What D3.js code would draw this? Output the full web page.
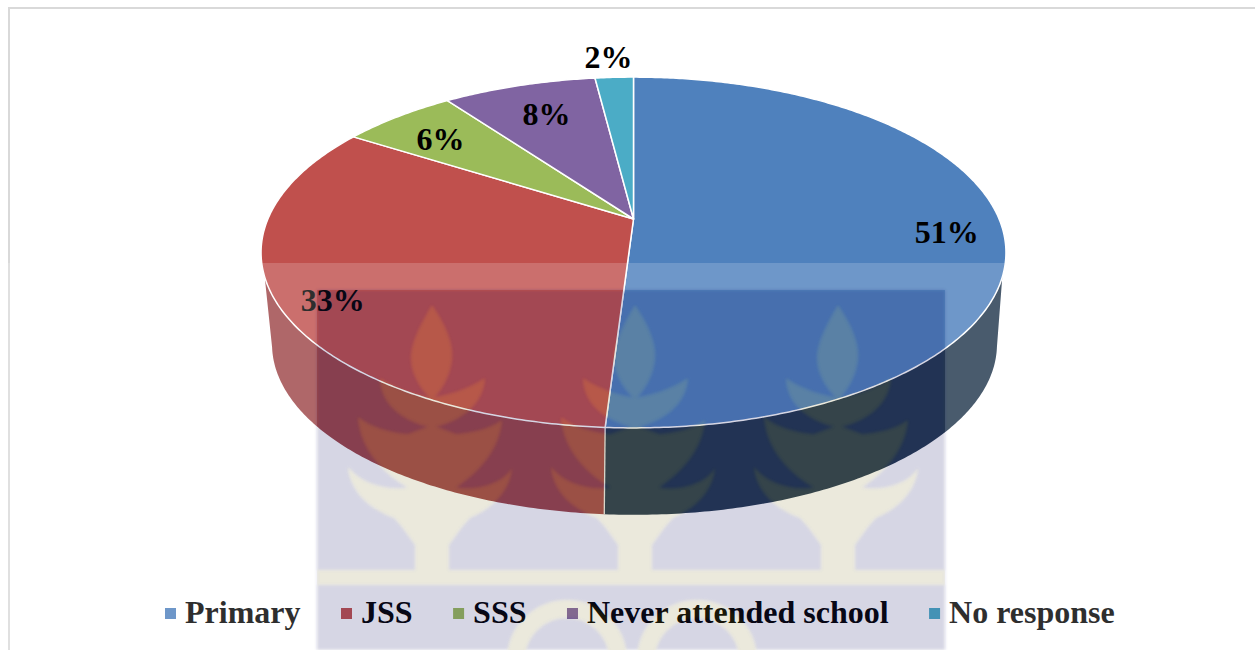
<!DOCTYPE html>
<html><head><meta charset="utf-8">
<script src="https://cdn.jsdelivr.net/npm/d3@7"></script>
<style>html,body{margin:0;padding:0;background:#fff;overflow:hidden}svg{display:block}
text{font-family:"Liberation Serif",serif;font-weight:bold;fill:#000}</style>
</head><body><div id="c"></div>
<script>
// ---- data ----
const categories = ["Primary","JSS","SSS","Never attended school","No response"];
const values = [51,33,6,8,2];
const labels = ["51%","33%","6%","8%","2%"];
const topColors = ["#4f81bd","#c0504d","#9bbb59","#8064a2","#4bacc6"];
const sideColors = ["#22374e","#9e4648","#6f8a3c","#5a4674","#2f7f93"];

// ---- layout ----
const W=1255,H=650;
const svg=d3.select("#c").append("svg").attr("width",W).attr("height",H);
const k=0.191;
const rimTop={cx:633.5,A:365.6,B:169,y0:219};
const rimBot={cx:634.5,A:355.8,B:164.4,y0:311.6};
function project(theta,r,g){ // theta clockwise from 12 o'clock
  const x=Math.sin(theta)*r,y=-Math.cos(theta)*r,w=1-k*y;
  return [g.cx+g.A*x/w,g.y0+g.B*y/w];
}
const line=d3.line();
const pie=d3.pie().sort(null).value(d=>d);
const arcs=pie(values);
const rad=d3.scaleLinear().domain([0,180]).range([0,Math.PI]);
const sideTop=[rad(108.8),rad(251.2)];
const sideBot=d3.scaleLinear().domain(sideTop).range([rad(102),rad(258)]);
const sampleAngles=(a,b)=>{const n=Math.max(2,Math.ceil((b-a)/0.01));return d3.range(n+1).map(i=>a+(b-a)*i/n)};

const defs=svg.append("defs");
defs.append("filter").attr("id","soft").attr("x","-5%").attr("y","-5%").attr("width","110%").attr("height","110%")
  .append("feGaussianBlur").attr("stdDeviation",1.4);

// frame
svg.append("path").attr("d",`M9,${H}V8H${W}`).attr("fill","none").attr("stroke","#d9d9d9").attr("stroke-width",2);

// side walls
const gSide=svg.append("g");
arcs.forEach((d,i)=>{
  const a=Math.max(d.startAngle,sideTop[0]),b=Math.min(d.endAngle,sideTop[1]);
  if(b<=a) return;
  const top=sampleAngles(a,b).map(t=>project(t,1,rimTop));
  const bot=sampleAngles(a,b).reverse().map(t=>project(sideBot(t),1,rimBot));
  gSide.append("path").attr("d",line(top.concat(bot))+"Z").attr("fill",sideColors[i]);
});
arcs.forEach(d=>{
  const t=d.endAngle;
  if(t>sideTop[0]&&t<sideTop[1]){
    const p=project(t,1,rimTop),q=project(sideBot(t),1,rimBot);
    gSide.append("path").attr("d",line([p,q])).attr("stroke","#e8e8e8").attr("stroke-width",1.3);
  }
});

// top surface
const gTop=svg.append("g");
arcs.forEach((d,i)=>{
  const pts=[project(0,0,rimTop)].concat(sampleAngles(d.startAngle,d.endAngle).map(t=>project(t,1,rimTop)));
  gTop.append("path").attr("d",line(pts)+"Z").attr("fill",topColors[i])
    .attr("stroke","#fff").attr("stroke-width",1.5).attr("stroke-linejoin","round");
});

// data labels
const labelRadius=[.853,.855,.80,.73,1.175], labelNudge=[[0,9],[0,11],[0,4],[0,-3],[-3,0]];
const gLab=svg.append("g");
arcs.forEach((d,i)=>{
  const p=project((d.startAngle+d.endAngle)/2,labelRadius[i],rimTop);
  gLab.append("text").attr("x",p[0]+labelNudge[i][0]).attr("y",p[1]+labelNudge[i][1]+10.5)
    .attr("text-anchor","middle").attr("font-size",32).text(labels[i]);
});

// legend
const gLeg=svg.append("g");
let lx=165; const legendGap=40.5;
categories.forEach((c,i)=>{
  gLeg.append("rect").attr("x",lx).attr("y",608).attr("width",11).attr("height",11).attr("fill",topColors[i]);
  const t=gLeg.append("text").attr("x",lx+20).attr("y",623).attr("font-size",32).text(c);
  lx+=20+t.node().getComputedTextLength()+legendGap;
});

// watermark overlay
const plantCenters=[432,635,838];
const plantPaths=[
 "M0,305C14,325 22,345 20,360C18,378 8,392 2,398L-2,398C-8,392 -20,378 -21,360C-22,345 -12,325 0,305Z",
 "M-52,378C-35,390 -15,395 0,398C15,395 35,390 53,378C52,400 35,420 0,428C-35,420 -52,400 -52,378Z",
 "M-74,417C-60,428 -40,433 -24,434L0,425L24,434C40,433 60,428 70,420C68,450 45,475 20,490L0,495L-20,490C-48,475 -72,450 -74,417Z",
 "M-84,467C-72,482 -50,490 -28,488L0,480L28,488C50,490 72,482 80,468C78,490 62,508 38,518L30,527L17,545L17,572L-17,572L-17,545L-30,527L-38,518C-65,508 -82,490 -84,467Z"
];
function drawEmblem(g,fill){
  plantCenters.forEach(c=>plantPaths.forEach(p=>g.append("path").attr("d",p).attr("transform",`translate(${c},0)`).attr("fill",fill)));
  g.append("rect").attr("x",317).attr("y",570).attr("width",628).attr("height",15).attr("fill",fill);
  [567,697].forEach(c=>g.append("ellipse").attr("cx",c).attr("cy",660).attr("rx",51).attr("ry",51)
     .attr("fill","none").attr("stroke",fill).attr("stroke-width",18));
}
const mask=defs.append("mask").attr("id","emblemMask").attr("maskUnits","userSpaceOnUse")
  .attr("x",0).attr("y",0).attr("width",W).attr("height",H);
mask.append("rect").attr("width",W).attr("height",H).attr("fill","#fff");
drawEmblem(mask.append("g").attr("filter","url(#soft)"),"#000");

defs.append("clipPath").attr("id","wmClip").append("rect").attr("x",317).attr("y",290).attr("width",628).attr("height",360);

// white veil where the picture's pale margin lies over the chart
svg.append("path").attr("d",`M0,263H${W}V${H}H945V290H317V${H}H0Z`).attr("fill","#fff").attr("fill-opacity",.18);
// lavender block
svg.append("g").attr("mask","url(#emblemMask)").append("rect")
  .attr("x",317).attr("y",290).attr("width",628).attr("height",360)
  .attr("fill","rgb(30,30,110)").attr("fill-opacity",.19).attr("filter","url(#soft)");
// cream emblem
const em=svg.append("g").attr("clip-path","url(#wmClip)").attr("opacity",.18)
  .append("g").attr("filter","url(#soft)");
drawEmblem(em,"rgb(140,130,60)");
</script></body></html>
